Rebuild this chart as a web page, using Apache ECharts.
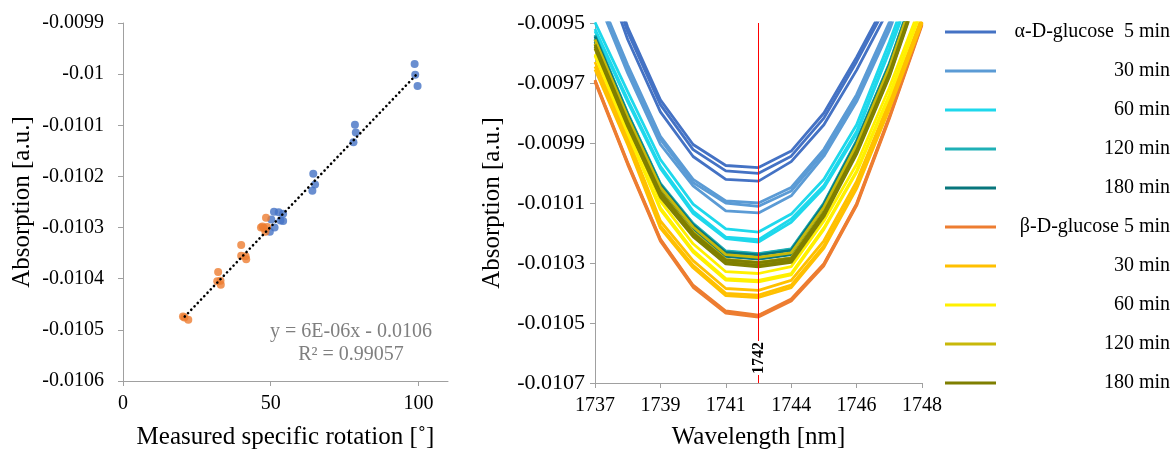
<!DOCTYPE html>
<html>
<head>
<meta charset="utf-8">
<script src="https://cdn.jsdelivr.net/npm/echarts@6/dist/echarts.min.js"></script>
<style>
html,body{margin:0;padding:0;background:#fff;}
#chart{width:1173px;height:455px;}
</style>
</head>
<body>
<div id="chart"></div>
<script>
// ---------- Left panel: scatter (measured specific rotation vs absorption) ----------
const alphaRot = [98.7, 98.9, 99.7, 78.5, 78.8, 78.0, 64.4, 65.0, 64.1, 51.1, 52.7, 54.2, 50.2, 53.3, 54.2, 51.3, 49.7];
const alphaAbs = [-0.00998, -0.010001, -0.010023, -0.010099, -0.010114, -0.010133, -0.010195, -0.010216, -0.010228,
                  -0.010269, -0.01027, -0.010273, -0.010284, -0.010286, -0.010287, -0.0103, -0.010308];
const betaRot = [20.3, 20.8, 22.1, 32.2, 31.9, 33.0, 33.1, 40.0, 40.0, 41.5, 41.7, 48.4, 46.7, 47.7, 48.8, 48.2, 47.2];
const betaAbs = [-0.010474, -0.010476, -0.01048, -0.010387, -0.010405, -0.010404, -0.010412, -0.010334, -0.010355,
                 -0.010356, -0.010362, -0.010281, -0.0103, -0.010301, -0.010299, -0.010308, -0.010298];
const trendX = [20.9, 99.3];
const trendY = [-0.010474, -0.010001];
const trendText = ['y = 6E-06x - 0.0106', 'R² = 0.99057'];
const leftXTicks = [0, 50, 100];
const leftYTicks = [-0.0106, -0.0105, -0.0104, -0.0103, -0.0102, -0.0101, -0.01, -0.0099];

// ---------- Right panel: spectra ----------
const wavelengths = ['1737','1738','1739','1740','1741','1742','1744','1745','1746','1747','1748'];
const markWavelength = '1742';
const rightYTicks = [-0.0107, -0.0105, -0.0103, -0.0101, -0.0099, -0.0097, -0.0095];

const a5_1 = [-0.0092, -0.009514, -0.009756, -0.009905, -0.009975, -0.009982, -0.009927, -0.0098, -0.009614, -0.00941, -0.0091];
const a5_2 = [-0.00922, -0.00953, -0.009772, -0.009922, -0.009993, -0.010001, -0.009944, -0.009817, -0.009629, -0.009425, -0.00912];
const a5_3 = [-0.00925, -0.009555, -0.009796, -0.009945, -0.010021, -0.010027, -0.009962, -0.009839, -0.009657, -0.00945, -0.00915];

const a30_1 = [-0.00938, -0.00964, -0.009878, -0.010021, -0.010093, -0.0101, -0.010048, -0.009921, -0.009739, -0.009498, -0.0092];
const a30_2 = [-0.00939, -0.00965, -0.009888, -0.010032, -0.0101, -0.010111, -0.01006, -0.009932, -0.00975, -0.009508, -0.00921];
const a30_3 = [-0.0094, -0.009667, -0.009905, -0.010043, -0.010126, -0.010133, -0.010076, -0.009944, -0.009762, -0.009525, -0.00923];

const a60_1 = [-0.009498, -0.009729, -0.009955, -0.010104, -0.010186, -0.010197, -0.010137, -0.010021, -0.009839, -0.009564, -0.00927];
const a60_2 = [-0.00952, -0.009755, -0.009978, -0.010127, -0.010214, -0.010222, -0.010153, -0.010042, -0.009862, -0.009587, -0.00929];
const a60_3 = [-0.009527, -0.009763, -0.009985, -0.010135, -0.010219, -0.01023, -0.010164, -0.01005, -0.00987, -0.009595, -0.0093];

const a120_1 = [-0.00954, -0.0098, -0.010035, -0.010168, -0.01026, -0.010269, -0.010253, -0.0101, -0.009892, -0.009635, -0.00932];
const a120_2 = [-0.009542, -0.009802, -0.010037, -0.01017, -0.010262, -0.01027, -0.010255, -0.010102, -0.009895, -0.009637, -0.009322];
const a120_3 = [-0.009552, -0.009812, -0.010048, -0.010182, -0.010276, -0.010285, -0.01027, -0.010117, -0.009908, -0.00965, -0.009333];

const a180_1 = [-0.009545, -0.009805, -0.01004, -0.010173, -0.010265, -0.010273, -0.010258, -0.010105, -0.009897, -0.00964, -0.009325];
const a180_2 = [-0.009556, -0.009815, -0.010052, -0.010185, -0.010278, -0.010287, -0.010272, -0.010118, -0.00991, -0.009652, -0.009335];
const a180_3 = [-0.009563, -0.009825, -0.01006, -0.010196, -0.01029, -0.0103, -0.010284, -0.01013, -0.00992, -0.009662, -0.009345];

const b5_1 = [-0.00969, -0.009965, -0.01022, -0.010374, -0.01046, -0.010474, -0.01042, -0.010302, -0.010102, -0.009812, -0.0095];
const b5_2 = [-0.009692, -0.009968, -0.010223, -0.010377, -0.010463, -0.010476, -0.010423, -0.010305, -0.010105, -0.009815, -0.009503];
const b5_3 = [-0.009697, -0.009972, -0.010227, -0.010381, -0.010467, -0.01048, -0.010427, -0.010309, -0.010109, -0.009819, -0.009507];

const b30_1 = [-0.00963, -0.009882, -0.01016, -0.010292, -0.010385, -0.010391, -0.010358, -0.010226, -0.010028, -0.009763, -0.00948];
const b30_2 = [-0.009645, -0.009898, -0.010176, -0.010308, -0.010401, -0.010407, -0.010374, -0.010242, -0.010044, -0.009779, -0.009495];
const b30_3 = [-0.009655, -0.009906, -0.010184, -0.010316, -0.010409, -0.010415, -0.010382, -0.01025, -0.010052, -0.009787, -0.0095];

const b60_1 = [-0.009584, -0.009839, -0.010094, -0.010236, -0.010329, -0.010335, -0.010312, -0.01016, -0.009971, -0.009716, -0.00943];
const b60_2 = [-0.009604, -0.009862, -0.010116, -0.010258, -0.010352, -0.010358, -0.010335, -0.010183, -0.009993, -0.009739, -0.00945];
const b60_3 = [-0.009609, -0.009867, -0.010122, -0.010264, -0.010357, -0.010363, -0.01034, -0.010188, -0.009998, -0.009744, -0.009455];

const b120_1 = [-0.009555, -0.009813, -0.010047, -0.01018, -0.010272, -0.010281, -0.010266, -0.010114, -0.009906, -0.009648, -0.00933];
const b120_2 = [-0.009568, -0.009828, -0.010063, -0.010196, -0.010288, -0.010298, -0.010283, -0.01013, -0.009921, -0.009662, -0.009345];
const b120_3 = [-0.00957, -0.00983, -0.010066, -0.010199, -0.010291, -0.010301, -0.010286, -0.010133, -0.009924, -0.009665, -0.009348];

const b180_1 = [-0.009572, -0.00983, -0.010065, -0.0102, -0.01029, -0.010299, -0.010285, -0.010132, -0.009925, -0.009668, -0.00935];
const b180_2 = [-0.009578, -0.009838, -0.010073, -0.010207, -0.010298, -0.010308, -0.010293, -0.01014, -0.009932, -0.009675, -0.009357];
const b180_3 = [-0.009585, -0.009845, -0.01008, -0.010212, -0.010303, -0.010313, -0.010298, -0.010145, -0.009937, -0.00968, -0.009362];

const groupKeys = ['a5','a30','a60','a120','a180','b5','b30','b60','b120','b180'];
const groupLabels = ['α-D-glucose  5 min','30 min','60 min','120 min','180 min','β-D-glucose 5 min','30 min','60 min','120 min','180 min'];
const groupColors = ['#4472C4','#5B9BD5','#1ED8EC','#1FB0B6','#08767C','#ED7D31','#FFC000','#FFF000','#C8B80A','#7F7F00'];
const groupData = [
  [a5_1, a5_2, a5_3], [a30_1, a30_2, a30_3], [a60_1, a60_2, a60_3], [a120_1, a120_2, a120_3], [a180_1, a180_2, a180_3],
  [b5_1, b5_2, b5_3], [b30_1, b30_2, b30_3], [b60_1, b60_2, b60_3], [b120_1, b120_2, b120_3], [b180_1, b180_2, b180_3]
];

const FONT = "'Liberation Serif', 'Times New Roman', serif";
const AXIS_GRAY = '#A0A0A0';

const chart = echarts.init(document.getElementById('chart'), null, {renderer: 'canvas'});

const fmtNum = v => String(parseFloat(Number(v).toFixed(6)));

const series = [];
series.push({
  type: 'scatter', xAxisIndex: 0, yAxisIndex: 0, name: 'alpha',
  data: alphaRot.map((x, i) => [x, alphaAbs[i]]),
  symbolSize: 8, itemStyle: {color: '#4472C4'}, z: 3
});
series.push({
  type: 'scatter', xAxisIndex: 0, yAxisIndex: 0, name: 'beta',
  data: betaRot.map((x, i) => [x, betaAbs[i]]),
  symbolSize: 8, itemStyle: {color: '#ED7D31'}, z: 3
});
series.push({
  type: 'line', xAxisIndex: 0, yAxisIndex: 0, name: 'trend',
  data: trendX.map((x, i) => [x, trendY[i]]),
  showSymbol: false, symbol: 'none',
  lineStyle: {color: '#000', width: 2.6, type: [0.1, 4.6], cap: 'round'},
  z: 4
});

groupKeys.forEach((k, g) => {
  groupData[g].forEach((arr, r) => {
    series.push({
      type: 'line', xAxisIndex: 1, yAxisIndex: 1, name: k,
      data: arr, showSymbol: false, symbol: 'none',
      lineStyle: {color: groupColors[g], width: 2.8},
      itemStyle: {color: groupColors[g]},
      clip: true, z: 2
    });
  });
});

series.push({
  type: 'line', xAxisIndex: 1, yAxisIndex: 1, name: 'marker',
  data: [], symbol: 'none', z: 5,
  markLine: {
    silent: true, symbol: ['none', 'none'],
    lineStyle: {color: '#FF0000', width: 1, type: 'solid'},
    label: {show: false},
    data: [{xAxis: markWavelength}]
  }
});

const labelMap = {};
groupKeys.forEach((k, i) => labelMap[k] = groupLabels[i]);

const option = {
  animation: false,
  backgroundColor: '#fff',
  grid: [
    {left: 123, top: 23, width: 325, height: 361},
    {left: 595, top: 23, width: 327, height: 362}
  ],
  legend: {
    orient: 'vertical', left: 945, top: 22, padding: 0,
    itemWidth: 51, itemHeight: 3, itemGap: 19, icon: 'rect',
    data: groupKeys,
    formatter: n => '{t|' + labelMap[n] + '}',
    textStyle: {rich: {t: {width: 169, align: 'right', fontSize: 20, lineHeight: 20, fontFamily: FONT, color: '#000'}}}
  },
  xAxis: [
    {
      gridIndex: 0, type: 'value', min: 0, max: 110,
      axisLine: {show: true, lineStyle: {color: AXIS_GRAY, width: 1}},
      axisTick: {show: true, customValues: leftXTicks, length: 5, lineStyle: {color: AXIS_GRAY}},
      axisLabel: {customValues: leftXTicks, fontSize: 20, fontFamily: FONT, color: '#000', margin: 13},
      splitLine: {show: false},
      name: 'Measured specific rotation [˚]', nameLocation: 'middle', nameGap: 44,
      nameTextStyle: {fontSize: 25, fontFamily: FONT, color: '#000'}
    },
    {
      gridIndex: 1, type: 'category', data: wavelengths, boundaryGap: false,
      axisLine: {show: true, lineStyle: {color: AXIS_GRAY, width: 1}},
      axisTick: {show: true, interval: 1, length: 5, lineStyle: {color: AXIS_GRAY}},
      axisLabel: {interval: 1, fontSize: 20, fontFamily: FONT, color: '#000', margin: 13},
      splitLine: {show: false},
      name: 'Wavelength [nm]', nameLocation: 'middle', nameGap: 42,
      nameTextStyle: {fontSize: 25, fontFamily: FONT, color: '#000'}
    }
  ],
  yAxis: [
    {
      gridIndex: 0, type: 'value', min: -0.0106, max: -0.0099,
      axisLine: {show: true, lineStyle: {color: AXIS_GRAY, width: 1}},
      axisTick: {show: true, customValues: leftYTicks, length: 5, lineStyle: {color: AXIS_GRAY}},
      axisLabel: {customValues: leftYTicks, formatter: fmtNum, fontSize: 20, fontFamily: FONT, color: '#000', margin: 19},
      splitLine: {show: false},
      name: 'Absorption [a.u.]', nameLocation: 'middle', nameRotate: 90, nameGap: 88,
      nameTextStyle: {fontSize: 25, fontFamily: FONT, color: '#000'}
    },
    {
      gridIndex: 1, type: 'value', min: -0.0107, max: -0.0095,
      axisLine: {show: true, lineStyle: {color: AXIS_GRAY, width: 1}},
      axisTick: {show: true, customValues: rightYTicks, length: 5, lineStyle: {color: AXIS_GRAY}},
      axisLabel: {customValues: rightYTicks, formatter: fmtNum, fontSize: 22, fontFamily: FONT, color: '#000', margin: 10},
      splitLine: {show: false},
      name: 'Absorption [a.u.]', nameLocation: 'middle', nameRotate: 90, nameGap: 90,
      nameTextStyle: {fontSize: 25, fontFamily: FONT, color: '#000'}
    }
  ],
  series: series
};

chart.setOption(option);

// Annotations placed relative to the axes
const mx = chart.convertToPixel({xAxisIndex: 1}, markWavelength);
const yBottom = chart.convertToPixel({yAxisIndex: 1}, -0.0107);
chart.setOption({
  graphic: [
    {
      type: 'text', x: mx, y: yBottom - 25, rotation: Math.PI / 2, z: 100,
      style: {text: markWavelength, fontSize: 16, fontWeight: 'bold', fontFamily: FONT, fill: '#000',
              align: 'center', verticalAlign: 'middle', backgroundColor: '#fff', padding: [0, 1]}
    },
    {
      type: 'text', x: 351, y: 332, z: 100,
      style: {text: trendText[0], fontSize: 20, fontFamily: FONT, fill: '#7F7F7F', align: 'center', verticalAlign: 'middle'}
    },
    {
      type: 'text', x: 351, y: 355, z: 100,
      style: {text: trendText[1], fontSize: 20, fontFamily: FONT, fill: '#7F7F7F', align: 'center', verticalAlign: 'middle'}
    }
  ]
});
</script>
</body>
</html>
